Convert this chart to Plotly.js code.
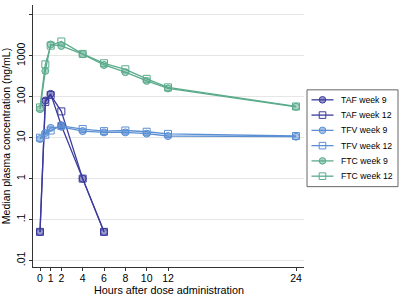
<!DOCTYPE html>
<html>
<head>
<meta charset="utf-8">
<script src="https://cdn.plot.ly/plotly-3.0.1.min.js"></script>
<style>html,body{margin:0;padding:0;background:#fff}#chart{width:400px;height:296px}</style>
</head>
<body>
<div id="chart"></div>
<script>
const hours = [0, 0.5, 1, 2, 4, 6, 8, 10, 12, 24];
const tafHours = [0, 0.5, 1, 2, 4, 6];
const tafWeek9 = [0.05, 81, 118, 20, 1, 0.05];
const tafWeek12 = [0.05, 75, 110, 44, 1, 0.05];
const tfvWeek9 = [9.3, 13, 17.4, 18.5, 14.5, 13.5, 13.5, 12.6, 11, 10.6];
const tfvWeek12 = [10, 11.8, 15, 19.5, 16.3, 14.5, 15, 14, 12.4, 11];
const ftcWeek9 = [50, 430, 1900, 1750, 1100, 600, 400, 245, 160, 57];
const ftcWeek12 = [55, 620, 1780, 2250, 1120, 660, 470, 275, 170, 58];
const seriesNames = ['TAF week 9', 'TAF week 12', 'TFV week 9', 'TFV week 12', 'FTC week 9', 'FTC week 12'];
const xTicks = [0, 1, 2, 4, 6, 8, 10, 12, 24];
const yTickVals = [0.01, 0.1, 1, 10, 100, 1000, 10000];
const yTickText = ['.01', '.1', '1', '10', '100', '1000', '10000'];
const xTitle = 'Hours after dose administration';
const yTitle = 'Median plasma concentration (ng/mL)';

const cTAF = '#3b3b9e', cTFV = '#5b8fd3', cFTC = '#5bab8c';
const colors = [cTAF, cTAF, cTFV, cTFV, cFTC, cFTC];
const symbols = ['circle', 'square', 'circle', 'square', 'circle', 'square'];
const xs = [tafHours, tafHours, hours, hours, hours, hours];
const ys = [tafWeek9, tafWeek12, tfvWeek9, tfvWeek12, ftcWeek9, ftcWeek12];

function fillOf(c){ return c + '88'; }
const data = seriesNames.map((name, i) => ({
  x: xs[i], y: ys[i], name: name, type: 'scatter', mode: 'lines+markers',
  showlegend: false,
  line: {color: colors[i], width: 1.3},
  marker: {
    symbol: symbols[i] === 'circle' ? 'circle' : 'square-open',
    size: 7,
    color: symbols[i] === 'circle' ? fillOf(colors[i]) : colors[i],
    line: {color: colors[i], width: 1}
  }
}));

// plot area in pixels (for placing the hand-drawn legend and x title)
const M = {l: 33, r: 96, t: 5, b: 28.5};
const W = 400, H = 296;
const pw = W - M.l - M.r, ph = H - M.t - M.b;
const px = v => (v - M.l) / pw;
const py = v => (H - M.b - v) / ph;

const shapes = [{
  type: 'rect', xref: 'paper', yref: 'paper',
  x0: px(307), x1: px(398), y0: py(187), y1: py(90),
  line: {color: '#666', width: 1}, fillcolor: '#fff', layer: 'above'
}];
const annotations = [{
  text: xTitle, xref: 'paper', yref: 'paper', x: 0.5, y: py(291),
  xanchor: 'center', yanchor: 'middle', showarrow: false,
  font: {size: 10.8, color: '#000'}
}];
seriesNames.forEach((name, i) => {
  const yc = 100 + i * 15.3;
  shapes.push({type: 'line', xref: 'paper', yref: 'paper',
    x0: px(311.5), x1: px(333.5), y0: py(yc), y1: py(yc),
    line: {color: colors[i], width: 1.3}, layer: 'above'});
  const r = 3.3;
  shapes.push({type: symbols[i] === 'circle' ? 'circle' : 'rect', xref: 'paper', yref: 'paper',
    x0: px(322.5 - r), x1: px(322.5 + r), y0: py(yc + r), y1: py(yc - r),
    line: {color: colors[i], width: 1},
    fillcolor: symbols[i] === 'circle' ? fillOf(colors[i]) : 'rgba(255,255,255,0)', layer: 'above'});
  annotations.push({text: name, xref: 'paper', yref: 'paper', x: px(339.5), y: py(yc),
    xanchor: 'left', yanchor: 'middle', showarrow: false,
    font: {size: 8.7, color: '#000'}});
});

const layout = {
  width: W, height: H,
  margin: {l: M.l, r: M.r, t: M.t, b: M.b, pad: 0},
  paper_bgcolor: '#fff', plot_bgcolor: '#fff',
  font: {family: 'Liberation Sans, Arial, sans-serif', size: 10.5, color: '#000'},
  showlegend: false,
  shapes: shapes,
  annotations: annotations,
  xaxis: {
    range: [-0.656, 24.75], tickvals: xTicks, ticks: 'outside', ticklen: 3,
    ticklabelstandoff: -2,
    tickcolor: '#333', showline: true, linecolor: '#333', linewidth: 1,
    showgrid: false, zeroline: false, tickfont: {size: 10.5}
  },
  yaxis: {
    type: 'log', range: [-2.16, 4.244], tickvals: yTickVals, ticktext: yTickText,
    tickangle: -90, ticks: 'outside', ticklen: 3, tickcolor: '#333',
    showline: true, linecolor: '#333', linewidth: 1,
    showgrid: true, gridcolor: '#e6e6e6', gridwidth: 1, zeroline: false,
    tickfont: {size: 10.5},
    title: {text: yTitle, font: {size: 10.5}}
  }
};
Plotly.newPlot('chart', data, layout, {displayModeBar: false, staticPlot: true});
</script>
</body>
</html>
